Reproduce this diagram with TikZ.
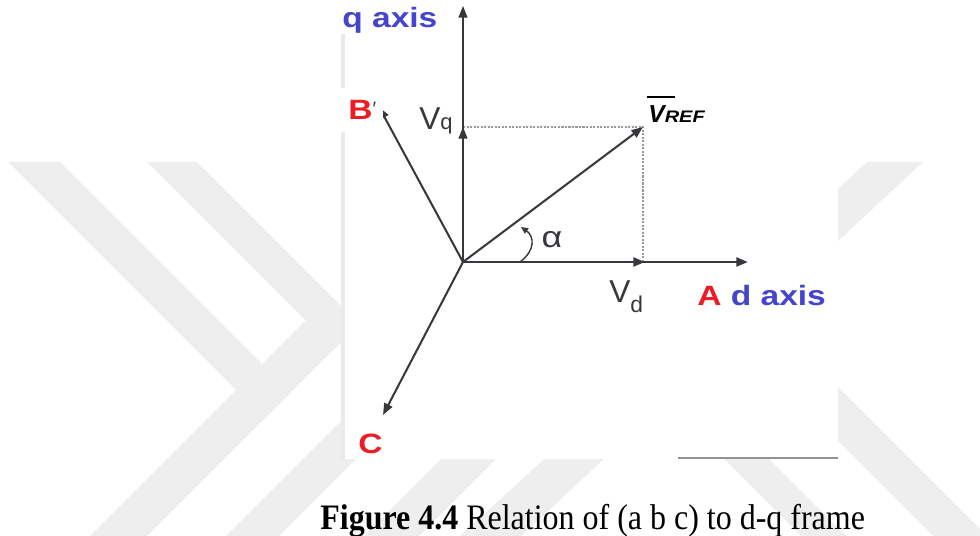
\documentclass[tikz,border=0pt]{standalone}
\usepackage{fontspec}
\setmainfont{Liberation Serif}
\setsansfont{Liberation Sans}
\usetikzlibrary{arrows.meta}
\definecolor{wm}{RGB}{238,238,238}
\definecolor{axblue}{RGB}{68,68,204}
\definecolor{axred}{RGB}{237,28,36}
\definecolor{ink}{RGB}{55,55,60}
\begin{document}
\begin{tikzpicture}[x=0.02cm,y=-0.02cm,
  >={Triangle[length=6.6pt,width=5pt]},
  wmark/.style={fill=wm,draw=none},
  qaxisline/.style={draw=ink,line width=0.85pt,->},
  daxisline/.style={draw=ink,line width=1.5pt,->},
  vecline/.style={draw=ink,line width=1.15pt,->},
  dotline/.style={draw=gray!80,line width=0.6pt,dash pattern=on 1.2pt off 0.8pt},
  arcline/.style={draw=ink,line width=0.8pt,-{Triangle[length=4pt,width=3.6pt]}},
  boldlbl/.style={inner sep=0pt,font=\sffamily\bfseries\fontsize{15.9}{16}\selectfont},
  thinlbl/.style={inner sep=0pt,text=ink,font=\sffamily\fontsize{18}{18}\selectfont}]
\useasboundingbox (0,0) rectangle (980,536);
% watermark
\begin{scope}
\clip (0,162) rectangle (980,536);
\fill[wmark] (8,162) -- (60,162) -- (290.5,392.5) -- (264.5,418.5) -- cycle;
\fill[wmark] (147,162) -- (197,162) -- (359,324) -- (334,349) -- cycle;
\fill[wmark] (305.5,320.5) -- (359,324) -- (143,540) -- (86,540) -- cycle;
\fill[wmark] (362,400) -- (415,400) -- (275,540) -- (222,540) -- cycle;
\fill[wmark] (460,440) -- (515,440) -- (415,540) -- (360,540) -- cycle;
\fill[wmark] (867,162) -- (923,162) -- (517,540) -- (456,540) -- cycle;
\fill[wmark] (697,300) -- (751,300) -- (991,540) -- (937,540) -- cycle;
\fill[wmark] (705,440) -- (750,440) -- (850,540) -- (805,540) -- cycle;
\end{scope}
% figure panel
\fill[white] (343,0) rectangle (838,459);
\draw[line width=2.8pt,draw={rgb,255:red,234;green,234;blue,234}] (343,34) -- (343,460);
\draw[line width=1.2pt,draw=gray!85] (678,458) -- (838,458);
% points
\coordinate (O) at (463,262);
\coordinate (qtip) at (463,6);
\coordinate (vq) at (463,127);
\coordinate (dtip) at (748,262);
\coordinate (vd) at (645,262);
\coordinate (vref) at (643,127);
\coordinate (foot) at (643,262);
\coordinate (btip) at (379,107);
\coordinate (ctip) at (383,415);
\coordinate (arcs) at (520,262);
\coordinate (arce) at (521,227);
% projections
\draw[dotline] (vq) -- (vref) -- (foot);
% axes and vectors
\draw[qaxisline] (O) -- (qtip);
\draw[qaxisline] (O) -- (vq);
\draw[daxisline] (O) -- (dtip);
\draw[daxisline] (O) -- (vd);
\draw[vecline] (O) -- (vref);
\draw[vecline] (O) -- (btip);
\draw[vecline] (O) -- (ctip);
\draw[arcline] (arcs) .. controls (536,250) and (534,236) .. (arce);
% labels
\node[boldlbl,anchor=base west,text=axblue] (qlbl) at (342,28) {\scalebox{1.2}[1]{q axis}};
\node[boldlbl,anchor=base west] (albl) at (697,306) {\scalebox{1.2}[1]{\textcolor{axred}{A} \textcolor{axblue}{d axis}}};
\node[boldlbl,anchor=base west,fill=white,inner xsep=4pt,inner ysep=7pt] (blbl) at (341,120) {\scalebox{1.2}[1]{\textcolor{axred}{B}}\raisebox{2.5pt}{\textcolor{ink}{\fontsize{11}{11}\mdseries\selectfont ′}}};
\node[boldlbl,anchor=base west,text=axred] (clbl) at (358,454) {\scalebox{1.2}[1]{C}};
\node[thinlbl,anchor=base west] (vqlbl) at (419,130) {V\fontsize{12.5}{12.5}\selectfont q};
\node[thinlbl,anchor=base west] (vdlbl) at (609,303) {V\raisebox{-5.5pt}{\fontsize{13}{13}\selectfont d}};
\node[thinlbl] (alpha) at (552,240) {\fontsize{17}{17}\selectfont\scalebox{1.2}[1]{α}};
\node[inner sep=0pt,anchor=base west,text=black,font=\sffamily\bfseries\itshape] (vreflbl) at (648,123)
  {\rlap{\kern-1pt\raisebox{14.2pt}{\rule{15.9pt}{1.4pt}}}\fontsize{14}{14}\selectfont V\fontsize{9.5}{9.5}\selectfont\scalebox{1.2}[1]{REF}};
\node[inner sep=0pt,anchor=base west,text=black] (caption) at (320,529)
  {\fontsize{18.2}{18.2}\selectfont\scalebox{1}[1.12]{\textbf{Figure 4.4} Relation of (a b c) to d-q frame}};
\end{tikzpicture}
\end{document}
